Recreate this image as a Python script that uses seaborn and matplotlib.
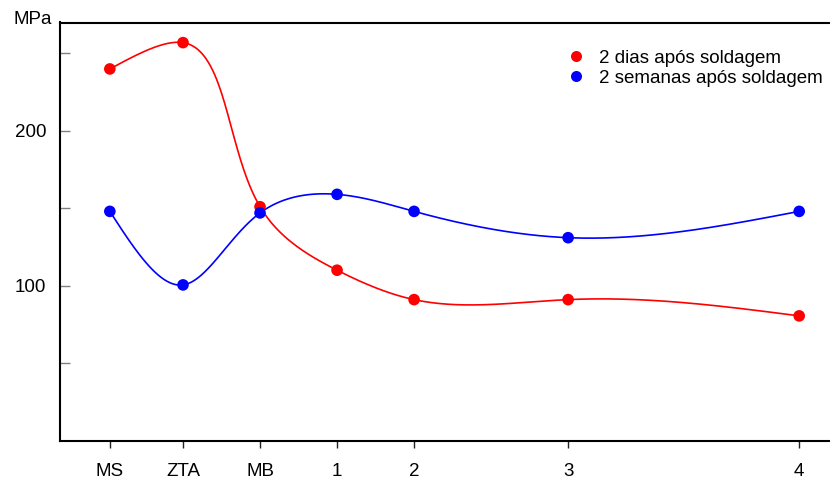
import numpy as np
import pandas as pd
import matplotlib
matplotlib.use("Agg")
import matplotlib.pyplot as plt
import seaborn as sns

# ---- data ----
categories = ["MS", "ZTA", "MB", "1", "2", "3", "4"]
x_pos = [-1.95, -1.0, 0.0, 1.0, 2.0, 4.0, 7.0]
dias = [240, 257, 151, 110, 91, 91, 80.5]
semanas = [148, 100.5, 147, 159, 148, 131, 148]
series_names = ["2 dias após soldagem", "2 semanas após soldagem"]
colors = ["#FF0000", "#0000FF"]
y_ticks = [50, 100, 150, 200, 250]
y_labels = ["", "100", "", "200", ""]

# screen scale (px per data unit) used for the chord-length parametrisation
SX, SY = 77.0, 1.54


def nat_coeffs(t, v):
    t = np.asarray(t, float); v = np.asarray(v, float)
    k = len(t); h = np.diff(t)
    A = np.zeros((k, k)); b = np.zeros(k)
    A[0, 0] = 1; A[-1, -1] = 1
    for i in range(1, k - 1):
        A[i, i - 1] = h[i - 1]; A[i, i] = 2 * (h[i - 1] + h[i]); A[i, i + 1] = h[i]
        b[i] = 6 * ((v[i + 1] - v[i]) / h[i] - (v[i] - v[i - 1]) / h[i - 1])
    return np.linalg.solve(A, b)


def nat_eval(t, v, M, tt):
    t = np.asarray(t, float); v = np.asarray(v, float)
    k = len(t); h = np.diff(t)
    out = np.empty_like(tt)
    for j, s in enumerate(tt):
        i = min(max(np.searchsorted(t, s, side="right") - 1, 0), k - 2)
        a = t[i + 1] - s; c = s - t[i]
        out[j] = (M[i] * a ** 3 / (6 * h[i]) + M[i + 1] * c ** 3 / (6 * h[i])
                  + (v[i] / h[i] - M[i] * h[i] / 6) * a
                  + (v[i + 1] / h[i] - M[i + 1] * h[i] / 6) * c)
    return out


def smooth_curve(x, y, alpha=1.0, n=900):
    px = np.asarray(x, float) * SX
    py = np.asarray(y, float) * SY
    t = np.concatenate([[0], np.cumsum(np.hypot(np.diff(px), np.diff(py)) ** alpha)])
    tt = np.linspace(0, t[-1], n)
    xs = nat_eval(t, px, nat_coeffs(t, px), tt) / SX
    ys = nat_eval(t, py, nat_coeffs(t, py), tt) / SY
    return xs, ys


sns.set_style("white")
plt.rcParams["font.family"] = ["Liberation Sans", "DejaVu Sans"]
plt.rcParams["text.color"] = "black"

fig = plt.figure(figsize=(8.3, 4.82), dpi=100)
ax = fig.add_axes([60 / 830, 1 - 440.5 / 482, 1 - 60 / 830, (440.5 - 22.5) / 482])

pts = pd.DataFrame({
    "x": x_pos * 2,
    "y": dias + semanas,
    "serie": [series_names[0]] * len(x_pos) + [series_names[1]] * len(x_pos),
})

curves = []
for name, vals in zip(series_names, [dias, semanas]):
    xs, ys = smooth_curve(x_pos, vals)
    curves.append(pd.DataFrame({"x": xs, "y": ys, "serie": name}))
curves = pd.concat(curves, ignore_index=True)

sns.lineplot(data=curves, x="x", y="y", hue="serie", palette=colors, sort=False,
             estimator=None, units="serie", lw=1.2, legend=False, ax=ax)
sns.scatterplot(data=pts, x="x", y="y", hue="serie", palette=colors,
                s=70, edgecolor="none", ax=ax, zorder=5)

ax.set_xlim(-2.597, 7.4)
ax.set_ylim(0, 270)
ax.set_xticks(x_pos)
ax.set_xticklabels(categories, fontsize=13.5, color="black")
ax.set_yticks(y_ticks)
ax.set_yticklabels(y_labels, fontsize=13.5, color="black")
ax.set_xlabel("")
ax.set_ylabel("")
ax.tick_params(axis="y", direction="in", length=7.5, width=1, color="#808080", pad=10, left=True)
ax.tick_params(axis="x", direction="out", length=5, width=1, color="#222222", pad=11, bottom=True)
for s in ["left", "bottom", "top"]:
    ax.spines[s].set_color("black")
    ax.spines[s].set_linewidth(1.5)
ax.spines["right"].set_visible(False)

fig.text(13 / 830, 1 - 19 / 482, "MPa", fontsize=13.5, va="center", ha="left")

ax.legend(loc="upper right", bbox_to_anchor=(1.012, 0.975), frameon=False,
          fontsize=13.5, handletextpad=0.2, labelspacing=0.15, borderaxespad=0.5,
          title=None, markerscale=0.95)

fig.savefig("out.png", dpi=100)
